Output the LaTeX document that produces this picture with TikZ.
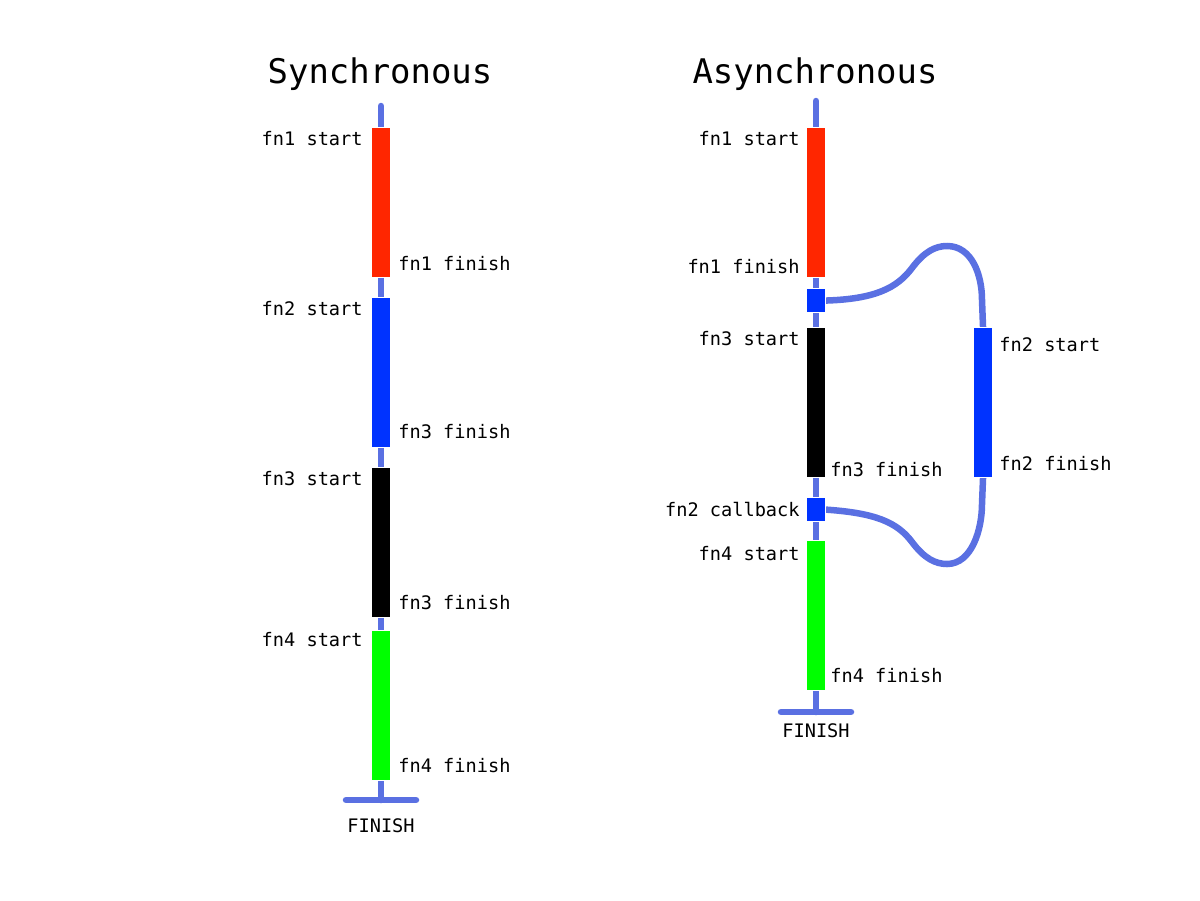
\documentclass[tikz,border=0pt]{standalone}
\usepackage{fontspec}
\setmonofont{DejaVu Sans Mono}
\usepackage{tikz}
\usetikzlibrary{positioning, calc, backgrounds}

\definecolor{flowblue}{RGB}{90,112,226}
\definecolor{fnred}{RGB}{255,38,0}
\definecolor{fnblue}{RGB}{0,51,255}
\definecolor{fngreen}{RGB}{0,255,0}

\begin{document}
\begin{tikzpicture}[
		x=0.02cm, y=-0.02cm,
		% --- Styles ---
		fnbar/.style={
			rectangle, draw=white, line width=0.6pt, inner sep=0pt,
			minimum width=0.38cm, minimum height=3cm
		},
		fnsquare/.style={
			fnbar, minimum height=0.48cm
		},
		flow/.style={
			draw=flowblue, line width=0.13cm, line cap=round
		},
		lbl/.style={
			inner sep=0pt, font=\ttfamily\fontsize{10.6}{12}\selectfont
		},
		heading/.style={
			inner sep=0pt, anchor=base, font=\ttfamily\fontsize{19.3}{23}\selectfont
		}
		]
		\useasboundingbox (0,0) rectangle (1200,900);
		
		% --- 1. Synchronous column ---
		\node [heading] (sync_title) at (380,83) {Synchronous};
		
		\node [fnbar, fill=fnred, anchor=north] (s1) at (381,127) {};
		\node [fnbar, fill=fnblue, below=0.38cm of s1] (s2) {};
		\node [fnbar, fill=black, below=0.38cm of s2] (s3) {};
		\node [fnbar, fill=fngreen, below=0.24cm of s3] (s4) {};
		
		\coordinate (sync_top) at (381,106);
		\coordinate (sync_end) at (381,800);
		\coordinate (sync_endl) at (346,800);
		\coordinate (sync_endr) at (416,800);
		
		\node [lbl, below left=0.08cm and 0.16cm of s1.north west] {fn1 start};
		\node [lbl, above right=0.14cm and 0.14cm of s1.south east] {fn1 finish};
		\node [lbl, below left=0.08cm and 0.16cm of s2.north west] {fn2 start};
		\node [lbl, above right=0.18cm and 0.14cm of s2.south east] {fn3 finish};
		\node [lbl, below left=0.08cm and 0.16cm of s3.north west] {fn3 start};
		\node [lbl, above right=0.16cm and 0.14cm of s3.south east] {fn3 finish};
		\node [lbl, below left=0.04cm and 0.16cm of s4.north west] {fn4 start};
		\node [lbl, above right=0.16cm and 0.14cm of s4.south east] {fn4 finish};
		
		\node [lbl, anchor=base] (sync_finish) at (381,832) {FINISH};
		
		% --- 2. Asynchronous column ---
		\node [heading] (async_title) at (815,83) {Asynchronous};
		
		\node [fnbar, fill=fnred, anchor=north] (a1) at (816,127) {};
		\node [fnsquare, fill=fnblue, below=0.20cm of a1] (q1) {};
		\node [fnbar, fill=black, below=0.28cm of q1] (a3) {};
		\node [fnsquare, fill=fnblue, below=0.38cm of a3] (q2) {};
		\node [fnbar, fill=fngreen, below=0.36cm of q2] (a4) {};
		
		% fn2 runs beside the main thread
		\node [fnbar, fill=fnblue, right=2.94cm of a3] (a2) {};
		
		\coordinate (async_top) at (816,101);
		\coordinate (async_end) at (816,712);
		\coordinate (async_endl) at (781,712);
		\coordinate (async_endr) at (851,712);
		
		\node [lbl, below left=0.08cm and 0.12cm of a1.north west] {fn1 start};
		\node [lbl, above left=0.08cm and 0.12cm of a1.south west] {fn1 finish};
		\node [lbl, below left=0.08cm and 0.12cm of a3.north west] {fn3 start};
		\node [lbl, above right=0.02cm and 0.08cm of a3.south east] {fn3 finish};
		\node [lbl, left=0.12cm of q2] {fn2 callback};
		\node [lbl, below left=0.12cm and 0.12cm of a4.north west] {fn4 start};
		\node [lbl, above right=0.16cm and 0.08cm of a4.south east] {fn4 finish};
		\node [lbl, below right=0.2cm and 0.12cm of a2.north east] {fn2 start};
		\node [lbl, above right=0.14cm and 0.12cm of a2.south east] {fn2 finish};
		
		\node [lbl, anchor=base] (async_finish) at (816,737) {FINISH};
		
		% --- 3. Threads, drawn behind the bars ---
		\begin{scope}[on background layer]
			\draw [flow] (sync_top) -- (sync_end);
			\draw [flow] (sync_endl) -- (sync_endr);
			\draw [flow] (async_top) -- (async_end);
			\draw [flow] (async_endl) -- (async_endr);
			
			% hand-off to fn2 and back to the callback
			\draw [flow, line cap=butt] (q1.east) .. controls (875,299) and (897,288) .. (912,268)
				.. controls (924,252) and (935,246) .. (947,246)
				.. controls (972,246) and (982,275) .. (982,300) -- (a2.north);
			\draw [flow, line cap=butt] (a2.south) -- (982,504)
				.. controls (982,529) and (972,564) .. (947,564)
				.. controls (935,564) and (924,558) .. (912,542)
				.. controls (897,522) and (875,513) .. (q2.east);
		\end{scope}
		
	\end{tikzpicture}
\end{document}
